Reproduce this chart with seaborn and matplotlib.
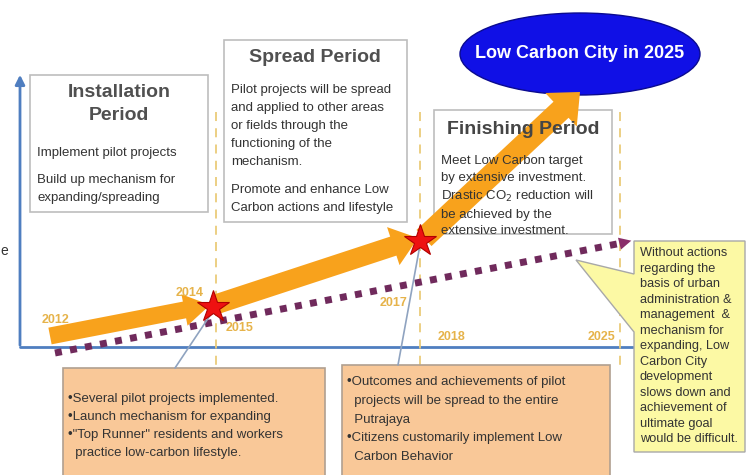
import matplotlib.pyplot as plt
import matplotlib.patches as mpatches
import seaborn as sns

sns.set_theme(style="white")
plt.rcParams['font.family'] = ['Liberation Sans', 'DejaVu Sans']

# --- diagram data (schematic units: x = timeline position, y = screen position) ---
orange_x = [50, 210, 418, 580]
orange_y = [336, 305, 238, 92]
baseline_x = [55, 622]
baseline_y = [353, 243]
star_x = [213, 420]
star_y = [307, 241]
year_labels = ["2012", "2014", "2015", "2017", "2018", "2025"]
year_x = [55, 190, 240, 393, 452, 602]
year_y = [320, 293, 328, 303, 337, 337]
period_lines_x = [216, 420, 620]

installation_title = "Installation\nPeriod"
installation_text = ["Implement pilot projects", "Build up mechanism for\nexpanding/spreading"]
spread_title = "Spread Period"
spread_text = ["Pilot projects will be spread\nand applied to other areas\nor fields through the\nfunctioning of the\nmechanism.",
               "Promote and enhance Low\nCarbon actions and lifestyle"]
finishing_title = "Finishing Period"
finishing_text = "Meet Low Carbon target\nby extensive investment.\nDrastic CO$_2$ reduction will\nbe achieved by the\nextensive investment."
goal_text = "Low Carbon City in 2025"
box1_text = ("\u2022Several pilot projects implemented.\n\u2022Launch mechanism for expanding\n"
             "\u2022\"Top Runner\" residents and workers\n  practice low-carbon lifestyle.")
box2_text = ("\u2022Outcomes and achievements of pilot\n  projects will be spread to the entire\n  Putrajaya\n"
             "\u2022Citizens customarily implement Low\n  Carbon Behavior")
note_text = ("Without actions\nregarding the\nbasis of urban\nadministration &\nmanagement  &\nmechanism for\n"
             "expanding, Low\nCarbon City\ndevelopment\nslows down and\nachievement of\nultimate goal\nwould be difficult.")

ORANGE = '#F8A21C'
YEAR = '#E6B34A'
TXT = '#333333'

fig = plt.figure(figsize=(7.49, 4.75), dpi=100)
ax = fig.add_axes([0, 0, 1, 1])
ax.set_xlim(0, 749)
ax.set_ylim(475, 0)
ax.axis('off')

# axes of the diagram
ax.plot([20, 633], [347, 347], color='#4F7EC0', lw=2, zorder=1)
ax.annotate("", xy=(20, 72), xytext=(20, 348),
            arrowprops=dict(arrowstyle='-|>', color='#4F7EC0', lw=2, mutation_scale=14), zorder=1)

# dashed period separators
for px in period_lines_x:
    ax.plot([px, px], [112, 368], color='#EBCB7A', lw=1.3, ls=(0, (5, 4)), zorder=1)

# period boxes
def box(x0, y0, x1, y1, fc='white', ec='#BDBDBD', z=2):
    ax.add_patch(mpatches.Rectangle((x0, y0), x1 - x0, y1 - y0, fc=fc, ec=ec, lw=1.2, zorder=z))

box(30, 75, 208, 212)
ax.text(119, 84, installation_title, ha='center', va='top', fontsize=14, fontweight='bold',
        color='#505050', linespacing=1.45, zorder=5)
ax.text(37, 153, installation_text[0], va='center', fontsize=9.5, color=TXT, zorder=5)
ax.text(37, 174, installation_text[1], va='top', fontsize=9.5, color=TXT, linespacing=1.7, zorder=5)

box(224, 40, 407, 222)
ax.text(315, 58, spread_title, ha='center', va='center', fontsize=14, fontweight='bold',
        color='#505050', zorder=5)
ax.text(231, 84, spread_text[0], va='top', fontsize=9.5, color=TXT, linespacing=1.67, zorder=5)
ax.text(231, 184, spread_text[1], va='top', fontsize=9.5, color=TXT, linespacing=1.7, zorder=5)

box(434, 110, 612, 234)
ax.text(523, 129, finishing_title, ha='center', va='center', fontsize=14, fontweight='bold',
        color='#454545', zorder=5)
ax.text(441, 155, finishing_text, va='top', fontsize=9.5, color=TXT, linespacing=1.5, zorder=5)

# goal ellipse
ax.add_patch(mpatches.Ellipse((580, 54), 240, 82, fc='#1010E6', ec='#0A0A90', lw=1, zorder=2))
ax.text(580, 54, goal_text, ha='center', va='center', fontsize=13, fontweight='bold',
        color='white', zorder=5)

# business-as-usual dotted line
ax.plot(baseline_x, baseline_y, color='#702A5C', lw=5, ls=(0, (1, 1.2)), solid_capstyle='butt', zorder=3)
ax.annotate("", xy=(634, 240), xytext=(baseline_x[1], baseline_y[1]),
            arrowprops=dict(arrowstyle='-|>', color='#8A2E6A', lw=0, mutation_scale=22), zorder=3)

# low-carbon path arrows
widths = [17, 20, 22]
heads = [32, 40, 46]
for i in range(3):
    x0, y0, x1, y1 = orange_x[i], orange_y[i], orange_x[i + 1], orange_y[i + 1]
    if i > 0:
        x0, y0 = star_x[i - 1] + 4, star_y[i - 1] - 3
    ax.add_patch(mpatches.FancyArrow(x0, y0, x1 - x0, y1 - y0, width=widths[i], head_width=heads[i],
                                     head_length=26, length_includes_head=True, fc=ORANGE, ec='none',
                                     zorder=3))

# callout lines and milestone stars
ax.plot([175, star_x[0]], [368, star_y[0] + 4], color='#8FA3C0', lw=1.2, zorder=3)
ax.plot([398, star_x[1]], [365, star_y[1] + 4], color='#8FA3C0', lw=1.2, zorder=3)
ax.plot(star_x, star_y, ls='none', marker='*', markersize=24, color='#EE1111',
        markeredgecolor='#B00000', markeredgewidth=0.8, zorder=6)

for lab, x, y in zip(year_labels, year_x, year_y):
    ax.text(x, y, lab, ha='center', va='center', fontsize=9, fontweight='bold', color=YEAR, zorder=5)

# bottom boxes
box(63, 368, 325, 480, fc='#F9C898', ec='#B0A090', z=2)
ax.text(68, 393, box1_text, va='top', fontsize=9.5, color=TXT, linespacing=1.68, zorder=5)
box(342, 365, 610, 480, fc='#F9C898', ec='#B0A090', z=2)
ax.text(347, 376, box2_text, va='top', fontsize=9.5, color=TXT, linespacing=1.75, zorder=5)

# yellow callout
ax.add_patch(mpatches.Polygon([(634, 241), (745, 241), (745, 452), (634, 452), (634, 332),
                               (576, 260), (634, 274)], closed=True, fc='#FCF9A4', ec='#A8A8A8',
                              lw=1, zorder=2))
ax.text(640, 247, note_text, va='top', fontsize=9.2, color=TXT, linespacing=1.39, zorder=5)

ax.text(0, 251, "e", va='center', fontsize=10, color=TXT)

fig.savefig('out.png', dpi=100)
